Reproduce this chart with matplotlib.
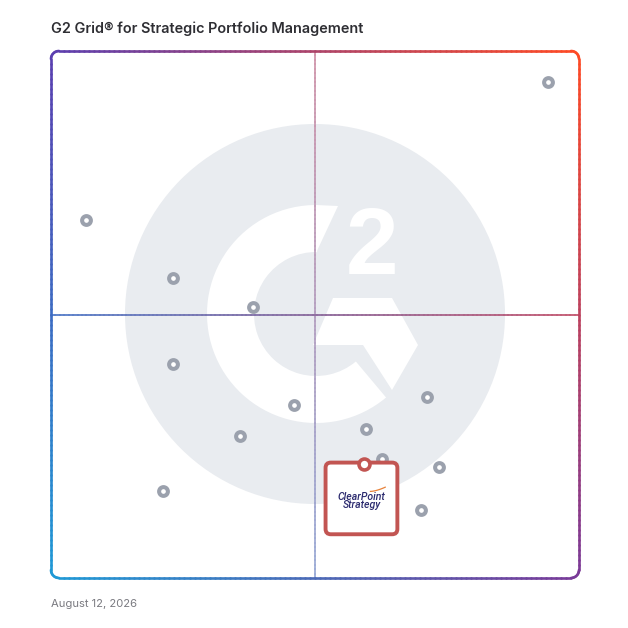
import numpy as np
import matplotlib
matplotlib.use('Agg')
import matplotlib.pyplot as plt
from matplotlib.collections import LineCollection
from matplotlib.patches import Circle, Wedge, Polygon, FancyBboxPatch

# data (0-100 on both axes)
vendor_x = [94.1, 6.6, 23.1, 38.3, 23.1, 46.0, 71.2, 35.8, 59.7, 62.7, 73.5, 21.2, 70.1]
vendor_y = [94.1, 67.9, 56.9, 51.4, 40.6, 32.8, 34.3, 26.9, 28.3, 22.6, 21.1, 16.5, 12.9]
hl_name = ['ClearPoint', 'Strategy']
hl_x, hl_y = 59.3, 21.6

title = 'G2 Grid\u00ae for Strategic Portfolio Management'
date_text = 'August 12, 2026'

# gradient corner colours of the frame
c_tl = np.array(matplotlib.colors.to_rgb('#5b3fb0'))
c_tr = np.array(matplotlib.colors.to_rgb('#ff4a24'))
c_bl = np.array(matplotlib.colors.to_rgb('#1f9ad6'))
c_br = np.array(matplotlib.colors.to_rgb('#7a3a98'))

L, R, T, B = 51, 579, 51, 578
W, H = 628, 628


def grad(px, py):
    u = (px - L) / (R - L)
    v = (py - T) / (B - T)
    top = c_tl * (1 - u) + c_tr * u
    bot = c_bl * (1 - u) + c_br * u
    return np.clip(top * (1 - v) + bot * v, 0, 1)


def grad_line(ax, xs, ys, lw, fade=0.0):
    # fade mixes the colour toward white (kept opaque so overlaps do not show)
    pts = np.column_stack([xs, ys])
    segs = np.stack([pts[:-1], pts[1:]], axis=1)
    mid = (pts[:-1] + pts[1:]) / 2
    cols = [tuple(grad(mx, my) * (1 - fade) + fade) for mx, my in mid]
    lc = LineCollection(segs, colors=cols, linewidths=lw, capstyle='round',
                        joinstyle='round')
    ax.add_collection(lc)


fig = plt.figure(figsize=(6.28, 6.28), dpi=100)
bg = fig.add_axes([0, 0, 1, 1])
bg.set_xlim(0, W)
bg.set_ylim(H, 0)
bg.axis('off')

# G2 logo watermark
cx, cy = 315, 314
bg.add_patch(Circle((cx, cy), 190, color='#e9ecf0', lw=0, zorder=1))
bg.add_patch(Wedge((cx + 1, cy), 109, 50, 271, width=47, color='white', lw=0, zorder=2))
bg.add_patch(Polygon([(316, 205), (338, 206), (316, 253)], closed=True, color='white', lw=0, zorder=2))
bg.add_patch(Polygon([(333, 298), (392, 298), (418, 345), (392, 390), (363, 345), (313, 345)],
                     closed=True, color='white', lw=0, zorder=2))
bg.text(372, 250, '2', fontsize=68, fontweight='bold', family='Liberation Sans',
        color='white', ha='center', va='center', zorder=3)

# crosshair
n = 120
ys = np.linspace(T, B, n)
grad_line(bg, np.full(n, (L + R) / 2), ys, 1.2, fade=0.4)
xs = np.linspace(L, R, n)
grad_line(bg, xs, np.full(n, (T + B) / 2), 1.3, fade=0.12)

# rounded frame
r = 8
path_x, path_y = [], []
for (ax0, ay0, a0, a1) in [(R - r, T + r, -90, 0), (R - r, B - r, 0, 90),
                           (L + r, B - r, 90, 180), (L + r, T + r, 180, 270)]:
    t = np.radians(np.linspace(a0, a1, 8))
    path_x += list(ax0 + r * np.cos(t))
    path_y += list(ay0 + r * np.sin(t))
path_x.append(path_x[0])
path_y.append(path_y[0])
# split the long sides so the colour changes smoothly
px, py = [], []
for i in range(len(path_x) - 1):
    seg_len = np.hypot(path_x[i + 1] - path_x[i], path_y[i + 1] - path_y[i])
    k = max(1, int(seg_len / 5))
    px += list(np.linspace(path_x[i], path_x[i + 1], k, endpoint=False))
    py += list(np.linspace(path_y[i], path_y[i + 1], k, endpoint=False))
px.append(path_x[-1])
py.append(path_y[-1])
grad_line(bg, np.array(px), np.array(py), 1.9)

# main grid axes
ax = fig.add_axes([L / W, (H - B) / H, (R - L) / W, (B - T) / H])
ax.set_xlim(0, 100)
ax.set_ylim(0, 100)
ax.patch.set_alpha(0)
ax.axis('off')

ax.scatter(vendor_x, vendor_y, s=40, facecolors='white', edgecolors='#9ba1ad',
           linewidths=2.9, zorder=5)

# highlighted vendor card
bw, bh = 13.6, 13.6
box = FancyBboxPatch((hl_x - 0.5 - bw / 2, hl_y + 0.3 - bh), bw, bh,
                     boxstyle='round,pad=0,rounding_size=1.0',
                     facecolor='white', edgecolor='#c25552', lw=2.8, zorder=6)
ax.add_patch(box)
ax.scatter([hl_x], [hl_y], s=62, facecolors='white', edgecolors='#c25552',
           linewidths=2.6, zorder=7)
ax.text(hl_x - 0.5, hl_y - bh * 0.455, hl_name[0], fontsize=7.6, style='italic',
        fontweight='medium', family='Roboto', color='#2b2a6e', ha='center', va='center', zorder=8)
ax.text(hl_x - 0.5, hl_y - bh * 0.575, hl_name[1], fontsize=7.6, style='italic',
        fontweight='medium', family='Roboto', color='#2b2a6e', ha='center', va='center', zorder=8)
sw = np.linspace(0, 1, 20)
ax.plot(hl_x + 1.2 + 2.8 * sw, hl_y - bh * 0.38 + 0.8 * sw ** 1.6, color='#e8823a',
        lw=0.9, zorder=8)

fig.text(L / W, 1 - 29 / H, title, fontsize=10.4, fontweight='semibold',
         family='Inter', color='#2e2e33', ha='left', va='center')
fig.text(L / W, 1 - 604 / H, date_text, fontsize=8.1, family='Inter',
         color='#7a7a80', ha='left', va='center')

fig.savefig('out.png', dpi=100)
